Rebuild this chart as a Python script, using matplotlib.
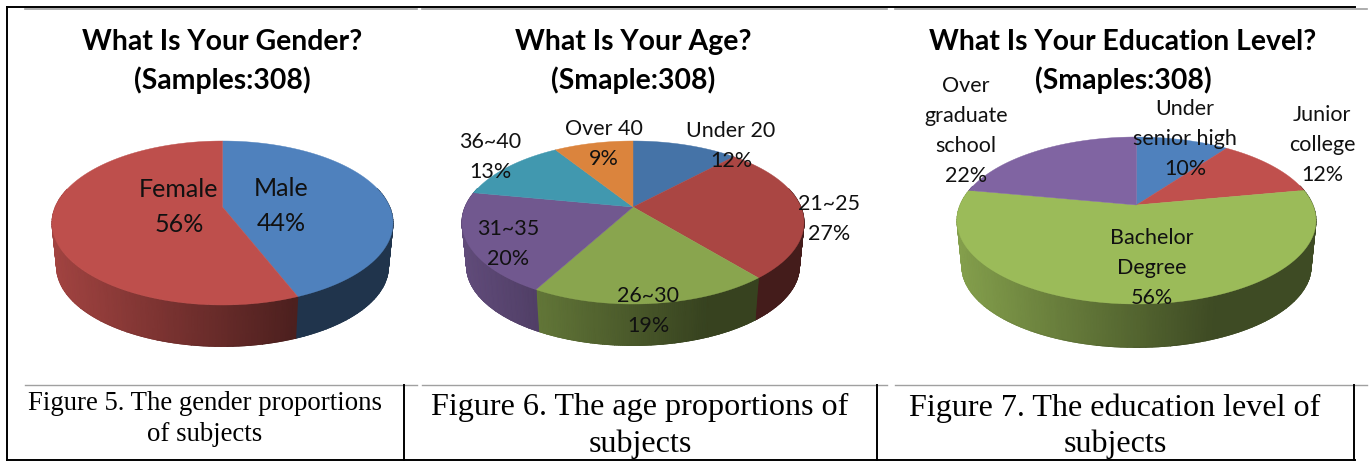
import numpy as np
import matplotlib
matplotlib.use("Agg")
import matplotlib.pyplot as plt
from matplotlib.colors import LinearSegmentedColormap

gender_labels = ["Male\n44%", "Female\n56%"]
gender_values = [44, 56]
gender_colors = ["#4F81BD", "#BE4F4C"]

age_labels = ["Under 20\n12%", "21~25\n27%", "26~30\n19%", "31~35\n20%", "36~40\n13%", "Over 40\n9%"]
age_values = [12, 27, 19, 20, 13, 9]
age_colors = ["#4573A7", "#AA4643", "#89A54E", "#71588F", "#4198AF", "#DB843D"]

edu_labels = ["Under\nsenior high\n10%", "Junior\ncollege\n12%", "Bachelor\nDegree\n56%", "Over\ngraduate\nschool\n22%"]
edu_values = [10, 12, 56, 22]
edu_colors = ["#4F81BD", "#C0504D", "#9BBB59", "#8064A2"]

titles = ["What Is Your Gender?\n(Samples:308)", "What Is Your Age?\n(Smaple:308)", "What Is Your Education Level?\n(Smaples:308)"]
captions = ["Figure 5. The gender proportions\nof subjects", "Figure 6. The age proportions of\nsubjects", "Figure 7. The education level of\nsubjects"]

fig = plt.figure(figsize=(13.7, 4.61), dpi=100)
ax = fig.add_axes([0, 0, 1, 1])
ax.set_xlim(0, 1370)
ax.set_ylim(461, 0)
ax.axis("off")


def wall_shade(t):
    # side of the pie goes dark from left to right, then stays flat
    return np.interp(t, [0, 0.72, 1], [0.85, 0.4, 0.4])


def pie3d(values, colors, cx, apex, rx, back, front, depth):
    w = (front - back) / (front + back)
    a = back * (1 + w)
    c = rx * np.sqrt(1 - w * w)

    def rim(th, s=1.0, drop=0.0):
        u, v = np.sin(th), np.cos(th)
        d = 1 + w * v
        return cx + s * c * u / d, apex - s * a * v / d + drop

    edges = np.radians(np.cumsum([0] + list(values)) * 3.6)
    # side wall first, top goes over it
    for i in range(len(values)):
        th = np.linspace(edges[i], edges[i + 1], 120)
        th = th[np.cos(th) < 0.25]
        if len(th) < 2:
            continue
        xt, yt = rim(th)
        xb, yb = rim(th, 0.973, depth)
        X = np.vstack([xt, xb])
        Y = np.vstack([yt, yb])
        C = wall_shade((xt - cx + rx) / (2 * rx))
        cmap = LinearSegmentedColormap.from_list("w", ["black", colors[i]])
        ax.pcolormesh(X, Y, np.vstack([C, C]), cmap=cmap, vmin=0, vmax=1, shading="gouraud", zorder=2)
        # smooth the lower edge of the wall
        for j in range(0, len(th) - 1, 6):
            ax.plot(xb[j:j + 7], yb[j:j + 7], color=cmap(C[j]), lw=0.8, zorder=2)
    for i in range(len(values)):
        th = np.linspace(edges[i], edges[i + 1], 200)
        x, y = rim(th)
        ax.fill(np.r_[cx, x], np.r_[apex, y], color=colors[i], lw=0.3, zorder=3)


pie3d(gender_values, gender_colors, 222.5, 207, 170.5, 66, 98, 44)
pie3d(age_values, age_colors, 633, 207, 171, 66, 97, 44)
pie3d(edu_values, edu_colors, 1136.5, 205, 179.5, 68, 99, 46)

label_font = dict(family="Lato", fontsize=15.5, color="#111111", ha="center", va="center", linespacing=1.62, zorder=5)
gender_pos = [(281, 206), (179, 207)]
for s, (x, y) in zip(gender_labels, gender_pos):
    ax.text(x, y, s, **{**label_font, "fontsize": 18, "linespacing": 1.58})
age_pos = [(731, 146), (829, 219), (648, 311), (508, 244), (490, 157), (604, 144)]
for s, (x, y) in zip(age_labels, age_pos):
    ax.text(x, y, s, **label_font)
edu_pos = [(1185, 139), (1322, 145), (1152, 268), (966, 131)]
for s, (x, y) in zip(edu_labels, edu_pos):
    ax.text(x, y, s, **label_font)

for s, x in zip(titles, [222, 633, 1123]):
    for line, y in zip(s.split("\n"), [42, 80]):
        ax.text(x, y, line, family="Lato", weight="bold", fontsize=20.4, ha="center", va="center", color="black", zorder=6)

cap_x = [205, 640, 1115]
cap_y = [419, 426, 426]
cap_size = [19.3, 23.1, 23.1]
for s, x, y, fs in zip(captions, cap_x, cap_y, cap_size):
    ax.text(x, y, s, family="Liberation Serif", fontsize=fs, ha="center", va="center", linespacing=1.3, color="black", zorder=6)

# table rules
for x0, x1 in [(25, 417), (422, 887), (895, 1367)]:
    ax.plot([x0, x1], [9, 9], color="#a0a0a0", lw=1.2, zorder=1)
    ax.plot([x0, x1], [385, 385], color="#a0a0a0", lw=1.0, zorder=1)
ax.plot([7, 1355], [7, 7], color="black", lw=1.4, zorder=7)
ax.plot([7, 1355], [460, 460], color="black", lw=1.4, zorder=7)
ax.plot([7, 7], [7, 460], color="black", lw=1.4, zorder=7)
for x in [404, 877, 1354]:
    ax.plot([x, x], [385, 460], color="black", lw=1.4, zorder=7)

fig.savefig("out.png", dpi=100)
